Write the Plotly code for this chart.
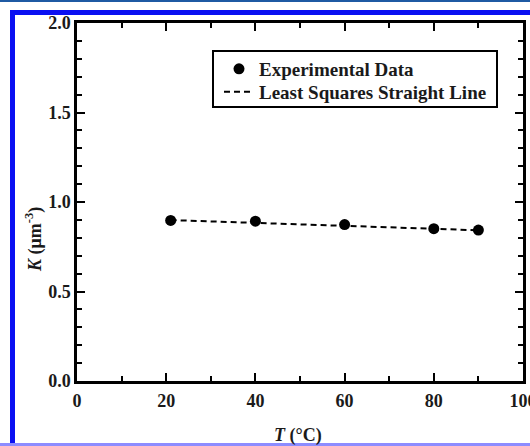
import plotly.graph_objects as go

# ---- data ----
temp_c = [21, 40, 60, 80, 90]
k_values = [0.897, 0.893, 0.874, 0.851, 0.843]
fit_x = [21, 90]
fit_y = [0.899, 0.842]

x_ticks = [0, 20, 40, 60, 80, 100]
y_ticks = [0.0, 0.5, 1.0, 1.5, 2.0]
y_tick_text = ["0.0", "0.5", "1.0", "1.5", "2.0"]

W, H = 530, 446
ML, MR, MT, MB = 77, 7, 23, 65
PW, PH = W - ML - MR, H - MT - MB

def px(xp):
    return (xp - ML) / PW

def py(yp):
    return (H - MB - yp) / PH

FONT = "Liberation Serif"
TXT = "#1a1a1a"

fig = go.Figure()
fig.add_trace(go.Scatter(
    x=temp_c, y=k_values, mode="markers", name="Experimental Data",
    marker=dict(symbol="circle", size=11, color="black"), legend="legend",
))
fig.add_trace(go.Scatter(
    x=fit_x, y=fit_y, mode="lines", name="Least Squares Straight Line",
    line=dict(color="black", width=2, dash="6px,4px"), legend="legend2",
))

axis_common = dict(
    showline=True, linecolor="black", linewidth=2.5, mirror="ticks",
    ticks="inside", ticklen=8, tickwidth=2, tickcolor="black",
    showgrid=False, zeroline=False, ticklabeloverflow="allow", automargin=False,
    tickfont=dict(family=FONT, size=18, color=TXT, weight="bold"),
)

fig.update_xaxes(
    range=[0, 100], tickvals=x_ticks, ticklabelstandoff=2,
    minor=dict(ticks="inside", ticklen=5, tickwidth=2, tickcolor="black", dtick=10, tick0=0),
    **axis_common,
)
fig.update_yaxes(
    range=[0, 2.0], tickvals=y_ticks, ticktext=y_tick_text, ticklabelstandoff=0,
    minor=dict(ticks="inside", ticklen=5, tickwidth=2, tickcolor="black", dtick=0.1, tick0=0),
    **axis_common,
)

fig.add_annotation(
    text="<b><i>T</i> (°C)</b>",
    xref="paper", yref="paper", x=px(298), y=py(435),
    xanchor="center", yanchor="middle", showarrow=False,
    font=dict(family=FONT, size=18, color=TXT),
)
fig.add_annotation(
    text="<b><i>K</i> (μm<sup>-3</sup>)</b>", textangle=-90,
    xref="paper", yref="paper", x=px(34), y=py(240),
    xanchor="center", yanchor="middle", showarrow=False,
    font=dict(family=FONT, size=18, color=TXT),
)

# legend box
fig.add_shape(type="rect", xref="paper", yref="paper",
              x0=px(213), x1=px(497), y0=py(51), y1=py(107),
              fillcolor="white", line=dict(color="black", width=2), layer="below")

# decorative frame (kept inside the page)
frame = [
    (0, 0, W, 2, "#1f5aa3"),
    (10, 10, W, 15, "#0a10f2"),
    (10, 10, 15, H, "#0a10f2"),
    (0, 443, W, H, "#8c8cff"),
]
for x0, y0, x1, y1, c in frame:
    fig.add_shape(type="rect", xref="paper", yref="paper",
                  x0=px(x0), x1=px(x1), y0=py(y0), y1=py(y1),
                  fillcolor=c, line=dict(width=0), layer="above")

leg_common = dict(
    xanchor="left", yanchor="middle", borderwidth=0, bgcolor="rgba(0,0,0,0)",
    font=dict(family=FONT, size=19, color=TXT, weight="bold"), itemwidth=30,
)

fig.update_layout(
    width=W, height=H, margin=dict(l=ML, r=MR, t=MT, b=MB, autoexpand=False),
    paper_bgcolor="white", plot_bgcolor="white",
    showlegend=True,
    legend=dict(x=px(219), y=py(69), **leg_common),
    legend2=dict(x=px(219), y=py(92), **leg_common),
)

fig.write_html(
    "out.html",
    post_script="document.documentElement.style.overflow='hidden';document.body.style.overflow='hidden';document.body.style.margin='0';",
)
